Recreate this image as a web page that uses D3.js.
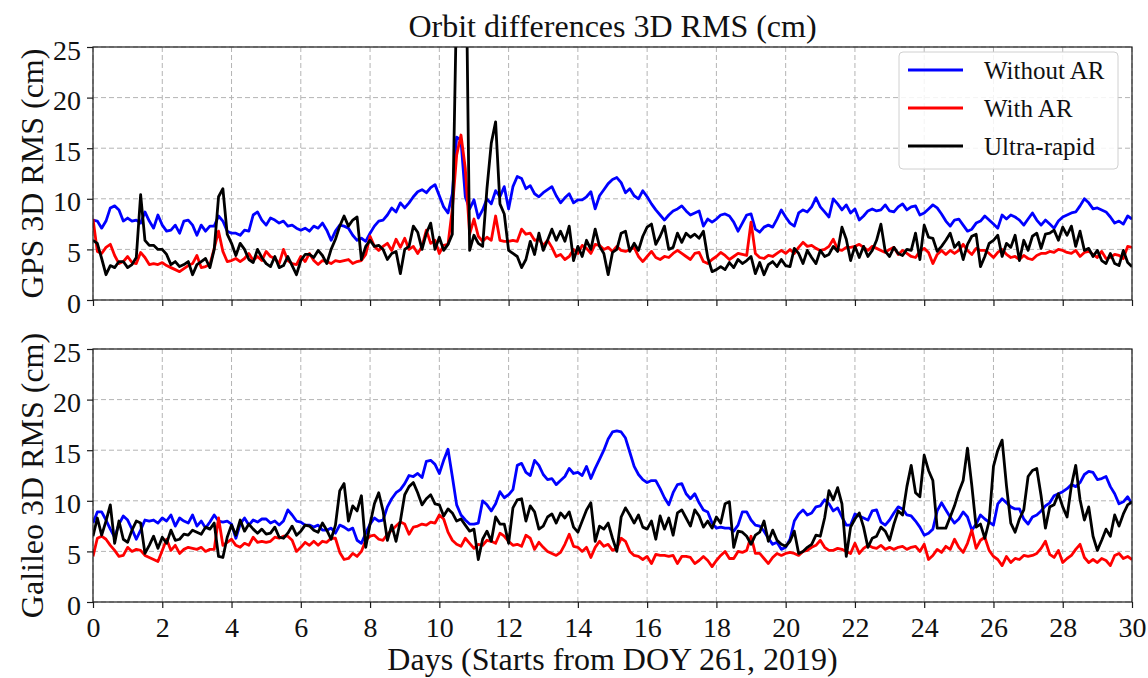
<!DOCTYPE html>
<html>
<head>
<meta charset="utf-8">
<script src="https://cdn.jsdelivr.net/npm/d3@7"></script>
<style>
  html, body { margin: 0; padding: 0; background: #fff; }
  svg { display: block; font-family: "Liberation Serif", "Times New Roman", Times, serif; }
</style>
</head>
<body>
<svg id="chart" width="1148" height="678"></svg>
<script>
// Sampling interval of every series, in days (3-hourly points)
const DAY_STEP = 0.125;

const xTickValues = [0, 2, 4, 6, 8, 10, 12, 14, 16, 18, 20, 22, 24, 26, 28, 30];
const yTickValues = [0, 5, 10, 15, 20, 25];

const seriesNames = ["Without AR", "With AR", "Ultra-rapid"];
const seriesColors = ["#0000ff", "#ff0000", "#000000"];

// GPS orbit differences, 3D RMS (cm)
const gpsWithoutAR = [
  7.9,7.8,7.1,7.8,9.1,9.3,8.9,7.8,
  8.1,7.8,7.9,7.6,8.7,7.8,7.1,8.4,
  7.4,6.8,6.9,7.4,6.6,7.8,7.9,7.4,
  6.4,7.4,6.8,7.3,7.3,8.3,7.8,6.8,
  6.6,6.6,6.4,6.9,6.8,8.4,8.7,7.9,
  7.4,8.1,7.9,7.6,7.8,7.3,7.4,7.1,
  6.9,7.1,6.8,7.3,7.1,7.6,6.9,5.9,
  6.8,7.4,7.3,7.1,6.4,5.9,6.1,5.8,
  6.6,7.3,7.8,7.9,8.4,9.1,8.7,9.6,
  9.1,9.6,10.2,10.7,10.9,10.6,11.1,11.4,
  10.3,9.2,8.6,10.5,16.1,15.8,10.2,9.0,
  9.9,8.1,8.9,10.0,9.5,10.8,10.2,11.2,
  9.0,11.2,12.2,12.0,11.0,11.3,10.5,10.2,
  10.6,10.9,11.2,10.3,9.6,10.1,10.5,9.6,
  9.9,9.9,10.2,10.7,9.0,10.3,10.9,11.5,
  11.9,12.1,11.6,10.6,11.0,10.3,10.0,10.8,
  10.2,9.5,8.9,8.4,7.9,8.4,8.8,9.0,
  9.3,8.8,8.4,8.6,8.8,7.3,8.0,7.7,
  8.0,8.4,8.5,8.3,7.7,6.8,7.6,8.4,
  8.5,7.0,6.7,7.2,7.4,7.2,8.0,8.9,
  8.2,7.6,7.3,8.6,8.9,8.7,9.2,10.1,
  9.2,8.7,8.2,10.0,9.5,8.9,9.4,8.6,
  9.0,7.9,8.3,8.8,9.0,8.8,8.9,9.4,
  8.8,8.7,9.2,9.5,8.9,9.2,9.3,8.4,
  8.6,9.0,9.4,9.1,8.5,7.8,7.3,7.9,
  8.0,7.4,6.8,7.0,7.6,7.8,8.3,7.9,
  7.5,7.1,8.4,8.0,8.4,8.2,7.9,7.4,
  8.0,8.6,7.9,7.4,7.9,7.5,7.1,7.8,
  8.2,8.4,8.6,8.7,9.3,10.0,9.6,9.0,
  9.1,8.9,8.7,8.2,7.6,7.8,7.5,8.3,
  8.0
];

const gpsWithAR = [
  8.0,4.8,4.6,5.2,5.5,4.4,3.6,3.8,
  4.3,3.7,3.6,4.7,4.2,3.5,3.6,3.5,
  3.7,3.4,3.2,3.0,2.8,3.1,3.4,3.6,
  4.4,3.2,3.3,3.5,5.1,6.8,4.8,3.8,
  3.9,4.1,3.8,4.1,4.6,3.9,4.3,3.9,
  4.8,4.3,4.1,3.6,5.0,3.9,3.6,3.5,
  4.3,3.8,4.6,3.9,3.5,3.9,3.8,3.6,
  3.9,3.8,3.9,4.0,3.6,3.8,3.9,4.5,
  6.3,5.3,4.9,5.3,5.6,4.9,6.0,5.2,
  6.1,5.0,5.3,4.6,5.3,6.9,5.6,5.9,
  4.6,5.4,5.5,9.0,14.3,16.3,13.0,6.5,
  8.0,6.3,5.8,6.2,5.9,8.3,5.9,5.8,
  5.8,5.9,5.8,7.0,6.5,6.6,5.9,6.0,
  5.4,5.9,5.2,4.3,4.5,4.0,4.3,5.0,
  4.6,5.4,5.1,4.6,5.5,5.4,5.0,5.2,
  4.8,5.3,4.9,4.8,5.0,5.2,4.3,3.8,
  4.3,4.8,4.2,4.0,4.3,4.2,4.6,4.9,
  4.6,4.3,4.0,4.6,4.7,3.8,3.6,4.0,
  4.3,4.7,4.4,4.0,4.3,4.6,4.5,4.4,
  7.7,4.6,4.2,4.1,4.4,4.3,4.6,4.9,
  4.6,5.0,4.6,5.2,5.7,5.3,5.4,5.1,
  4.9,5.0,5.3,6.0,5.0,4.9,5.2,5.2,
  5.3,5.5,5.2,4.9,5.3,5.1,4.9,4.7,
  5.0,5.2,4.5,4.9,4.6,4.3,4.2,4.8,
  5.1,4.7,3.6,4.5,4.9,4.5,4.9,4.6,
  4.9,5.5,4.9,4.5,5.1,4.9,4.9,4.6,
  4.2,4.7,5.0,4.5,4.2,4.3,4.0,4.4,
  4.1,4.0,4.4,4.6,4.6,4.8,4.7,5.0,
  4.9,4.7,4.6,4.9,4.3,4.7,4.8,4.5,
  4.2,4.8,4.1,4.2,4.5,4.4,4.1,5.3,
  5.2
];

const gpsUltraRapid = [
  5.9,5.6,4.1,2.5,3.4,3.2,3.8,3.8,
  3.2,3.5,4.2,10.4,5.9,5.4,5.4,5.0,
  5.0,4.5,3.5,3.8,3.3,3.5,3.8,2.5,
  3.5,3.8,4.1,3.2,5.0,10.2,11.0,6.5,
  5.6,4.4,5.6,5.0,4.0,3.7,5.0,4.2,
  3.6,3.3,4.3,3.2,3.4,4.3,3.4,2.5,
  3.9,4.5,4.5,4.2,4.9,4.4,3.6,5.0,
  6.0,7.3,8.3,7.3,7.9,8.2,4.0,5.3,
  5.9,5.3,5.4,5.0,4.0,4.6,4.8,2.6,
  5.0,5.3,7.3,6.7,5.0,6.6,7.6,5.0,
  6.2,4.9,5.5,6.5,30.0,45.0,40.0,4.9,
  6.4,5.6,5.3,11.0,15.5,17.6,9.5,8.5,
  4.9,4.6,4.3,3.2,4.0,5.8,4.5,6.6,
  4.9,5.9,7.0,5.9,6.8,5.8,7.3,3.9,
  5.3,4.3,5.9,5.0,7.0,5.3,4.6,2.5,
  4.7,5.0,6.6,6.8,4.8,5.6,4.9,6.3,
  7.2,7.5,5.5,6.3,7.3,5.0,5.2,6.6,
  5.7,6.6,6.2,6.5,6.1,6.8,4.2,2.8,
  3.0,3.3,3.0,3.7,3.2,4.0,3.6,3.9,
  4.3,2.6,3.7,2.5,3.5,3.8,3.3,4.0,
  3.4,3.3,5.1,4.6,3.6,4.9,4.2,3.6,
  4.9,4.3,4.5,5.3,4.8,7.2,6.0,3.9,
  5.3,4.2,5.3,4.3,4.9,5.9,7.5,4.8,
  4.3,5.2,4.6,4.4,5.0,4.9,6.6,4.0,
  7.4,6.2,6.1,4.8,5.3,5.9,6.6,5.2,
  5.7,4.0,5.5,6.3,6.5,3.3,4.3,5.6,
  5.9,6.4,4.3,5.6,5.2,6.4,3.9,5.9,
  4.9,6.3,6.6,5.1,6.5,6.6,6.9,5.9,
  7.2,6.4,7.3,5.3,6.8,4.9,5.1,4.3,
  4.9,3.9,3.6,4.6,3.6,3.4,4.9,3.7,
  3.3
];

// Galileo orbit differences, 3D RMS (cm)
const galWithoutAR = [
  7.8,8.9,8.9,8.1,7.2,6.4,7.7,8.5,
  8.1,7.2,6.2,7.1,8.1,8.0,8.1,7.8,
  8.3,8.0,8.6,7.5,8.3,8.0,7.8,8.6,
  7.5,8.0,7.3,7.9,8.6,8.0,7.9,8.0,
  7.7,6.3,7.7,8.3,7.6,8.1,7.9,8.2,
  8.2,7.8,8.0,7.6,8.0,9.1,8.6,8.0,
  7.9,7.6,7.6,7.4,7.6,7.1,7.1,7.3,
  6.8,7.6,7.4,7.1,7.3,6.1,5.8,6.8,
  7.7,8.3,8.0,8.1,9.4,10.2,10.8,11.1,
  11.7,12.5,12.4,12.7,12.3,13.9,14.0,13.6,
  12.7,14.0,15.1,12.4,9.6,8.6,8.1,7.7,
  7.7,7.8,10.0,9.6,9.0,9.7,10.9,10.3,
  10.6,11.1,13.5,13.7,12.8,12.5,14.0,13.5,
  12.6,12.1,12.2,11.6,12.0,12.4,13.2,12.7,
  12.8,12.5,13.4,12.2,13.2,14.1,15.0,16.1,
  16.8,16.9,16.8,16.2,14.8,13.4,12.6,12.1,
  11.8,12.0,12.0,11.2,10.3,9.6,10.8,11.6,
  11.7,10.7,10.2,10.7,9.8,9.1,8.9,7.8,
  7.3,7.4,7.3,7.3,7.0,7.6,8.9,8.9,
  8.1,7.6,7.5,7.0,6.3,5.7,5.9,5.2,
  5.4,6.2,8.0,8.7,9.1,8.6,8.8,9.4,
  9.5,10.1,9.7,9.0,9.3,8.4,7.6,7.6,
  8.7,8.5,8.3,8.1,9.0,9.1,7.9,7.6,
  8.1,8.8,9.4,9.2,8.6,8.5,8.0,7.4,
  6.6,6.8,7.2,9.0,9.8,9.1,8.4,7.8,
  8.2,8.9,8.4,7.1,7.7,8.6,8.2,7.9,
  7.6,9.7,10.2,9.8,9.4,9.2,9.2,8.2,
  7.7,8.4,8.6,9.0,9.5,9.8,10.5,10.7,
  10.9,11.2,11.6,11.4,11.8,12.6,12.9,12.8,
  12.1,12.2,12.4,11.4,10.7,9.7,9.9,10.4,
  9.7
];

const galWithAR = [
  4.5,6.3,6.5,6.2,5.6,5.1,4.5,4.6,
  5.4,5.0,5.2,5.1,4.6,4.4,4.2,4.0,
  5.1,6.2,5.1,5.6,4.8,5.2,5.4,5.3,
  5.2,5.4,5.0,5.2,5.2,8.3,5.6,5.9,
  6.2,5.6,5.4,5.8,5.6,6.4,5.9,6.0,
  5.9,6.0,6.4,6.3,6.5,6.5,6.1,5.0,
  5.4,5.9,5.6,6.0,5.6,6.0,5.9,6.3,
  6.3,4.9,4.2,4.3,4.8,4.5,5.0,6.1,
  6.5,6.6,6.2,6.1,6.7,7.1,7.5,7.9,
  7.7,6.7,7.4,7.5,7.7,7.6,7.9,7.8,
  8.6,8.2,6.9,6.1,5.7,5.5,6.3,5.8,
  5.3,5.7,5.6,6.1,6.0,5.8,6.8,6.5,
  6.0,5.6,5.7,5.5,6.6,6.3,5.2,5.9,
  5.4,5.0,4.8,4.6,4.9,5.7,6.7,5.5,
  5.4,5.0,5.4,4.4,5.4,6.0,5.5,5.7,
  5.1,5.3,6.3,6.0,5.0,4.6,4.5,4.2,
  4.5,3.8,4.7,4.6,4.6,4.5,4.6,3.8,
  4.5,4.5,4.4,3.8,4.1,4.5,4.1,3.5,
  4.1,4.6,5.0,4.3,4.3,5.0,4.9,5.1,
  6.5,4.8,4.8,4.3,3.8,4.4,4.8,4.6,
  4.8,4.9,4.8,4.6,5.0,5.1,5.4,5.6,
  6.1,5.4,5.1,5.1,5.3,5.2,5.0,4.8,
  5.8,4.8,5.3,5.6,5.4,5.3,5.6,5.2,
  5.4,5.2,5.4,5.5,5.2,5.4,5.5,5.0,
  5.7,4.2,4.6,5.2,4.9,5.5,5.2,6.2,
  5.4,4.9,5.8,7.1,5.3,6.1,6.4,5.1,
  4.5,4.2,3.6,4.5,3.9,4.3,4.2,4.6,
  4.5,4.6,4.8,5.3,6.0,4.7,4.4,5.1,
  3.9,4.3,4.6,5.2,5.7,4.4,3.9,4.2,
  3.9,4.3,4.1,3.6,4.6,4.8,4.3,4.5,
  4.2
];

const galUltraRapid = [
  6.5,8.3,6.6,8.0,9.6,5.8,8.0,6.2,
  5.9,7.1,8.0,7.8,4.8,5.6,6.5,5.3,
  6.4,5.8,7.1,6.1,6.2,6.7,6.6,7.1,
  6.9,6.7,7.4,7.2,7.8,4.5,4.4,6.4,
  7.6,6.6,8.1,7.0,7.7,7.2,6.8,7.2,
  6.7,6.8,7.4,6.4,6.3,6.8,7.5,6.6,
  7.0,7.6,7.5,7.1,6.9,7.8,7.1,6.2,
  7.6,11.0,11.7,8.0,9.5,9.0,10.5,5.4,
  7.7,9.7,10.8,9.0,6.1,7.6,6.0,8.0,
  10.6,11.4,11.8,10.8,9.6,10.2,10.6,9.7,
  9.6,8.5,9.2,8.8,8.0,8.2,7.6,7.0,
  7.2,4.2,6.2,7.0,6.0,8.4,7.7,7.7,
  5.8,9.3,10.1,10.2,8.0,9.5,8.9,7.2,
  7.5,8.4,8.7,7.8,8.8,8.3,8.9,7.4,
  6.9,8.0,9.1,9.8,6.0,7.5,7.2,7.8,
  6.3,5.0,8.4,9.3,8.6,7.8,8.6,7.4,
  7.2,8.0,6.2,8.5,7.2,8.3,6.6,8.8,
  9.1,8.3,7.5,9.1,8.5,7.4,8.0,7.3,
  8.4,7.8,9.7,9.9,5.4,7.0,6.9,6.5,
  5.7,6.6,6.9,8.0,6.0,7.1,6.1,5.7,
  5.5,6.0,7.0,4.8,5.0,5.4,5.7,6.6,
  6.5,8.3,11.0,10.1,11.3,9.7,4.5,7.4,
  8.2,8.8,7.4,5.4,6.3,6.5,7.4,7.0,
  6.1,7.7,9.0,8.6,11.4,13.5,10.8,10.4,
  14.5,13.0,12.0,7.3,7.3,7.3,8.4,9.5,
  10.9,12.0,15.2,11.5,7.4,7.7,6.3,8.0,
  13.4,15.0,16.0,11.5,7.8,6.9,8.2,9.1,
  12.4,13.0,13.2,10.5,7.3,9.4,9.6,10.7,
  9.4,8.4,11.5,13.5,10.1,8.1,9.4,6.5,
  5.1,6.1,7.2,6.5,8.6,7.5,8.7,9.6,
  9.9
];

const panels = [
  { label: "GPS 3D RMS (cm)", series: [gpsWithoutAR, gpsWithAR, gpsUltraRapid],
    top: 47, bottom: 300, xLabels: false, legend: true },
  { label: "Galileo 3D RMS (cm)", series: [galWithoutAR, galWithAR, galUltraRapid],
    top: 349, bottom: 602, xLabels: true, legend: false }
];

const svg = d3.select("#chart");
const left = 93, right = 1132;
const tickFont = 28, labelFont = 32, legendFont = 25;
const seriesWidth = 2.8;

const x = d3.scaleLinear().domain([0, 30]).range([left, right]);

svg.append("text")
  .attr("x", (left + right) / 2).attr("y", 37)
  .attr("text-anchor", "middle")
  .attr("font-size", labelFont)
  .attr("fill", "#111")
  .text("Orbit differences 3D RMS (cm)");

panels.forEach((p, pi) => {
  const y = d3.scaleLinear().domain([0, 25]).range([p.bottom, p.top]);
  const g = svg.append("g");
  const clipId = "clip" + pi;

  svg.append("clipPath").attr("id", clipId)
    .append("rect")
    .attr("x", left).attr("y", p.top)
    .attr("width", right - left).attr("height", p.bottom - p.top);

  // dashed grid
  const grid = g.append("g").attr("stroke", "#b4b4b4").attr("stroke-width", 1)
    .attr("stroke-dasharray", "5,3");
  grid.selectAll("line.v").data(xTickValues).join("line")
    .attr("x1", d => x(d)).attr("x2", d => x(d))
    .attr("y1", p.top).attr("y2", p.bottom);
  grid.selectAll("line.h").data(yTickValues).join("line")
    .attr("x1", left).attr("x2", right)
    .attr("y1", d => y(d)).attr("y2", d => y(d));

  // series
  const line = d3.line()
    .x((d, i) => x(i * DAY_STEP))
    .y(d => y(d));
  const lines = g.append("g").attr("clip-path", `url(#${clipId})`);
  p.series.forEach((vals, si) => {
    lines.append("path")
      .datum(vals)
      .attr("fill", "none")
      .attr("stroke", seriesColors[si])
      .attr("stroke-width", seriesWidth)
      .attr("stroke-linejoin", "round")
      .attr("d", line);
  });

  // frame
  g.append("rect")
    .attr("x", left).attr("y", p.top)
    .attr("width", right - left).attr("height", p.bottom - p.top)
    .attr("fill", "none").attr("stroke", "#1a1a1a").attr("stroke-width", 1.2);

  // axes
  const xAxis = d3.axisBottom(x).tickValues(xTickValues)
    .tickSize(6).tickSizeOuter(0).tickPadding(9)
    .tickFormat(p.xLabels ? d3.format("d") : () => "");
  const xg = g.append("g").attr("transform", `translate(0,${p.bottom})`).call(xAxis);
  xg.select(".domain").remove();
  xg.selectAll(".tick line").attr("stroke", "#1a1a1a").attr("stroke-width", 1.2);
  xg.selectAll("text").attr("font-size", tickFont).attr("fill", "#111")
    .attr("font-family", "Liberation Serif, Times New Roman, serif");

  const yAxis = d3.axisLeft(y).tickValues(yTickValues)
    .tickSize(6).tickSizeOuter(0).tickPadding(6).tickFormat(d3.format("d"));
  const yg = g.append("g").attr("transform", `translate(${left},0)`).call(yAxis);
  yg.select(".domain").remove();
  yg.selectAll(".tick line").attr("stroke", "#1a1a1a").attr("stroke-width", 1.2);
  yg.selectAll("text").attr("font-size", tickFont).attr("fill", "#111").attr("dy", "0.43em")
    .attr("font-family", "Liberation Serif, Times New Roman, serif");

  // y-axis title
  svg.append("text")
    .attr("transform", `translate(43,${(p.top + p.bottom) / 2}) rotate(-90)`)
    .attr("text-anchor", "middle")
    .attr("font-size", labelFont)
    .attr("fill", "#111")
    .text(p.label);

  if (p.legend) {
    const lg = svg.append("g");
    lg.append("rect")
      .attr("x", 899).attr("y", 52).attr("width", 219).attr("height", 117)
      .attr("rx", 4).attr("fill", "#fff").attr("fill-opacity", 0.85)
      .attr("stroke", "#d0d0d0").attr("stroke-width", 1);
    seriesNames.forEach((name, si) => {
      const cy = 70 + si * 38;
      lg.append("line")
        .attr("x1", 908).attr("x2", 963).attr("y1", cy).attr("y2", cy)
        .attr("stroke", seriesColors[si]).attr("stroke-width", seriesWidth);
      lg.append("text")
        .attr("x", 984).attr("y", cy + 9)
        .attr("font-size", legendFont).attr("fill", "#111")
        .text(name);
    });
  }
});

svg.append("text")
  .attr("x", (left + right) / 2).attr("y", 670)
  .attr("text-anchor", "middle")
  .attr("font-size", labelFont)
  .attr("fill", "#111")
  .text("Days (Starts from DOY 261, 2019)");
</script>
</body>
</html>
